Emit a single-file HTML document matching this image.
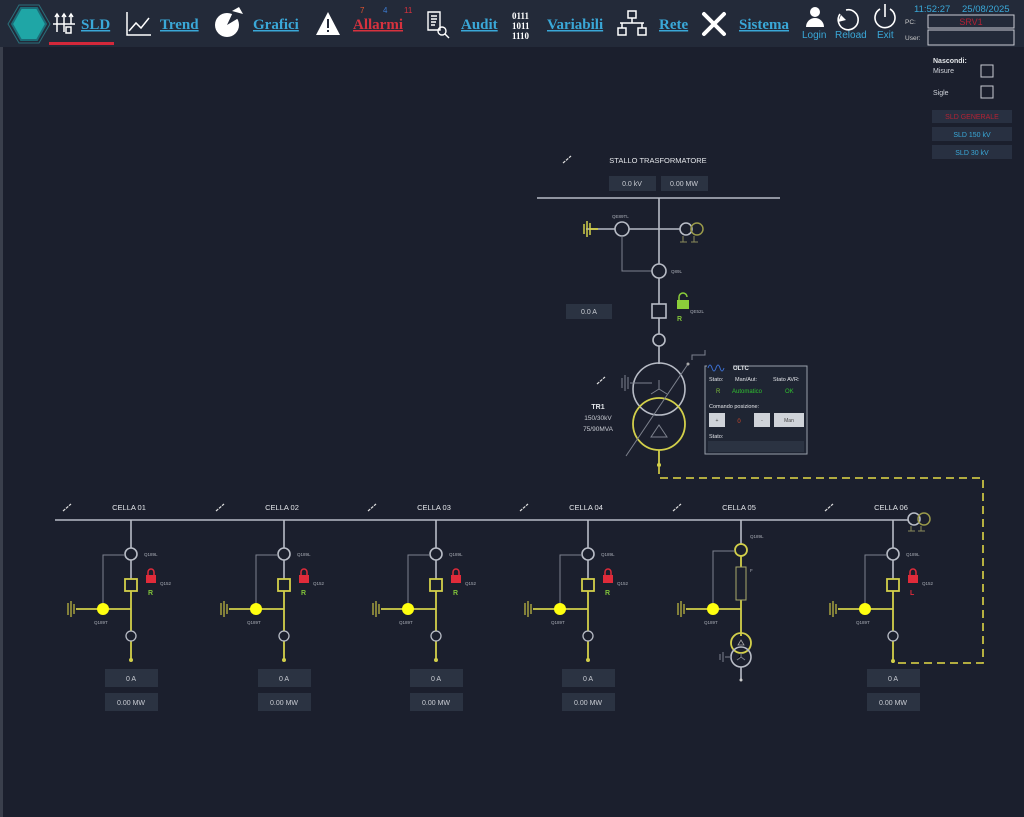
<!DOCTYPE html>
<html><head><meta charset="utf-8"><style>
html,body{margin:0;padding:0;background:#1b1f2d;}
svg{display:block;font-family:"Liberation Sans",sans-serif;}
.g{stroke:#b8bcc6;fill:none;stroke-width:1.6}
.gt{stroke:#7d828e;fill:none;stroke-width:1}
.y{stroke:#d2cf4a;fill:none;stroke-width:1.8}
.lbl{fill:#e4e6ea;font-size:7.5px}
.sm{fill:#a9adb6;font-size:4.5px}
.box{fill:#2b3342}
.bt{fill:#c9ccd3;font-size:7px;text-anchor:middle}
.menu{font-family:"Liberation Serif",serif;font-size:15px;font-weight:bold;fill:#3aa8d8;text-decoration:underline}
</style></head><body>
<svg width="1024" height="817" viewBox="0 0 1024 817">
<rect width="1024" height="817" fill="#1b1f2d"/>
<rect x="0" y="0" width="3" height="817" fill="#3a3f4c"/>
<rect x="0" y="0" width="1024" height="47" fill="#232a39"/>
<polygon points="12,24 21,8 37,8 46,24 37,40 21,40" fill="#1fa6a6" stroke="#1b6d78" stroke-width="2"/>
<polygon points="8,24 19,5 39,5 50,24 39,43 19,43" fill="none" stroke="#2a6f7a" stroke-width="1"/>
<rect x="49" y="42" width="65" height="3" fill="#d3283a"/>
<g stroke="#fff" stroke-width="1.5" fill="none"><path d="M53,24H75M57,14V32M64,14V32M71,14V24"/><path d="M55,17l2,-3 2,3M62,17l2,-3 2,3M69,17l2,-3 2,3"/><rect x="66" y="27" width="5" height="6"/></g>
<text x="81" y="29" class="menu">SLD</text>
<path d="M127,12V35H151M129,31l7,-8 5,5 8,-10" stroke="#fff" stroke-width="1.5" fill="none"/>
<text x="160" y="29" class="menu">Trend</text>
<circle cx="227" cy="25" r="12" fill="#fff"/><path d="M227,25L234,10L242,16Z" fill="#232a39"/><path d="M232,11l7,-4 4,7z" fill="#fff"/>
<text x="253" y="29" class="menu">Grafici</text>
<path d="M328,12L340,35H316Z" fill="#fff"/><rect x="327" y="19" width="2" height="9" fill="#232a39"/><rect x="327" y="30" width="2" height="2" fill="#232a39"/>
<text x="353" y="29" class="menu" style="fill:#d7323e">Allarmi</text>
<text x="360" y="13" style="fill:#e0522e;font-size:8px">7</text><text x="383" y="13" style="fill:#3b7bd1;font-size:8px">4</text><text x="404" y="13" style="fill:#d7323e;font-size:8px">11</text>
<g stroke="#fff" stroke-width="1.4" fill="none"><path d="M428,12H440V30H428Z M431,16H437M431,19H437M431,22H436M431,25H435"/><circle cx="442" cy="31" r="4"/><path d="M445,34l4,4"/></g>
<text x="461" y="29" class="menu">Audit</text>
<g style="fill:#fff;font-family:'Liberation Serif',serif;font-size:9px;font-weight:bold"><text x="512" y="19">0111</text><text x="512" y="29">1011</text><text x="512" y="39">1110</text></g>
<text x="547" y="29" class="menu">Variabili</text>
<g stroke="#fff" stroke-width="1.5" fill="none"><rect x="628" y="11" width="8" height="7"/><path d="M632,18V23M620,23H644M622,23V28M642,23V28"/><rect x="618" y="28" width="8" height="7"/><rect x="638" y="28" width="8" height="7"/></g>
<text x="659" y="29" class="menu">Rete</text>
<g stroke="#fff" stroke-width="4" stroke-linecap="round"><path d="M704,14L724,34M724,14L704,34"/></g>
<text x="739" y="29" class="menu">Sistema</text>
<circle cx="815" cy="12" r="5" fill="#fff"/><path d="M806,27a9,9 0 0 1 18,0Z" fill="#fff"/>
<text x="802" y="38" style="fill:#3aa8d8;font-size:10px">Login</text>
<path d="M846,10a10,10 0 1 1 -6,4" stroke="#fff" stroke-width="1.6" fill="none"/><path d="M838,22l3,-7 5,5z" fill="#fff"/>
<text x="835" y="38" style="fill:#3aa8d8;font-size:10px">Reload</text>
<path d="M880,9a10,10 0 1 0 10,0M885,4V17" stroke="#fff" stroke-width="1.6" fill="none"/>
<text x="877" y="38" style="fill:#3aa8d8;font-size:10px">Exit</text>
<text x="914" y="12" style="fill:#3aa8d8;font-size:9.5px">11:52:27</text><text x="962" y="12" style="fill:#3aa8d8;font-size:9.5px">25/08/2025</text>
<text x="905" y="24" style="fill:#ccc;font-size:6.5px">PC:</text><text x="905" y="40" style="fill:#ccc;font-size:6.5px">User:</text>
<rect x="928" y="15" width="86" height="13" fill="none" stroke="#c8cbd2" stroke-width="1"/>
<text x="971" y="25" style="fill:#b32234;font-size:9px;text-anchor:middle">SRV1</text>
<rect x="928" y="30" width="86" height="15" fill="none" stroke="#c8cbd2" stroke-width="1"/>
<text x="933" y="63" style="fill:#e4e6ea;font-size:7px;font-weight:bold">Nascondi:</text>
<text x="933" y="73" style="fill:#d0d3da;font-size:7px">Misure</text>
<rect x="981" y="65" width="12" height="12" fill="none" stroke="#c8cbd2"/>
<text x="933" y="95" style="fill:#d0d3da;font-size:7px">Sigle</text>
<rect x="981" y="86" width="12" height="12" fill="none" stroke="#c8cbd2"/>
<rect x="932" y="110" width="80" height="13" fill="#283041"/><text x="972" y="119" style="fill:#b32234;font-size:7px;text-anchor:middle">SLD GENERALE</text>
<rect x="932" y="127" width="80" height="14" fill="#283041"/><text x="972" y="137" style="fill:#3aa8d8;font-size:7px;text-anchor:middle">SLD 150 kV</text>
<rect x="932" y="145" width="80" height="14" fill="#283041"/><text x="972" y="155" style="fill:#3aa8d8;font-size:7px;text-anchor:middle">SLD 30 kV</text>

<path d="M563,163l8,-7" stroke="#ddd" stroke-width="1.2" stroke-dasharray="3,1"/>
<text x="658" y="163" class="lbl" style="text-anchor:middle">STALLO TRASFORMATORE</text>
<rect x="609" y="176" width="47" height="15" class="box"/><text x="632" y="186" class="bt">0.0 kV</text>
<rect x="661" y="176" width="47" height="15" class="box"/><text x="684" y="186" class="bt">0.00 MW</text>
<path d="M537,198H780" class="g" stroke-width="2"/>
<path d="M659,198V264M659,278V304M659,318V334M659,346V364" class="g"/>
<path d="M586,229H615M629,229H680" class="g"/>
<path d="M584,224V234M587,221V237M590,223V235" stroke="#d2cf4a" stroke-width="1.5"/><path d="M590,229H598" class="y"/>
<circle cx="622" cy="229" r="7" class="g"/>
<text x="612" y="218" class="sm">QE89TL</text>
<path d="M622,236V271H652" class="gt"/>
<circle cx="686" cy="229" r="6" class="g"/><circle cx="697" cy="229" r="6" stroke="#9a9a4a" stroke-width="1.5" fill="none"/>
<path d="M683,236V242M680,242H687M694,236V242M691,242H698" stroke="#8b8b5a" stroke-width="1"/>
<circle cx="659" cy="271" r="7" class="g"/><text x="671" y="273" class="sm">Q89L</text>
<rect x="652" y="304" width="14" height="14" class="g"/>
<rect x="677" y="300" width="12" height="9" fill="#8ccf3a"/><path d="M679,300v-3a4,4 0 0 1 8,0" stroke="#8ccf3a" stroke-width="1.5" fill="none"/>
<text x="677" y="321" style="fill:#7fc13a;font-size:7px;font-weight:bold">R</text>
<text x="690" y="313" class="sm">QE52L</text>
<rect x="566" y="304" width="46" height="15" class="box"/><text x="589" y="314" class="bt">0.0 A</text>
<circle cx="659" cy="340" r="6" class="g"/>
<circle cx="659" cy="389" r="26" class="g" stroke-width="2"/>
<circle cx="659" cy="424" r="26" class="y" stroke-width="2"/>
<path d="M659,380V389M659,389l-8,5M659,389l8,5M630,383H652" class="gt" stroke-width="1.2"/>
<path d="M622,378V388M625,375V391M628,377V389" class="gt" stroke-width="1.2"/>
<path d="M651,437L659,425L667,437Z" class="gt" stroke-width="1.2"/>
<path d="M626,456L688,364" class="gt" stroke-width="1.2"/><circle cx="688" cy="364" r="1.5" fill="#aaa"/>
<path d="M692,360V355H705V350" class="gt"/>
<path d="M659,450V465" class="y"/><circle cx="659" cy="465" r="2" fill="#d2cf4a"/>
<path d="M659,466V478H983V663H893" stroke="#c8c043" stroke-width="1.8" fill="none" stroke-dasharray="8,5"/>
<path d="M597,384l8,-7" stroke="#ddd" stroke-width="1.2" stroke-dasharray="3,1"/>
<text x="598" y="409" style="fill:#e4e6ea;font-size:7px;font-weight:bold;text-anchor:middle">TR1</text>
<text x="598" y="420" style="fill:#c9ccd3;font-size:6.5px;text-anchor:middle">150/30kV</text>
<text x="598" y="431" style="fill:#c9ccd3;font-size:6.5px;text-anchor:middle">75/90MVA</text>
<rect x="705" y="366" width="102" height="88" fill="#1f2533" stroke="#9aa0ab" stroke-width="1"/>
<rect x="707" y="362" width="26" height="8" fill="#1b1f2d"/>
<path d="M708,368q2,-6 4,0t4,0t4,0t4,0" stroke="#3b6fd1" stroke-width="1" fill="none"/>
<text x="733" y="370" style="fill:#e4e6ea;font-size:6px;font-weight:bold">OLTC</text>
<text x="709" y="381" style="fill:#e4e6ea;font-size:5.5px">Stato:</text>
<text x="735" y="381" style="fill:#e4e6ea;font-size:5.5px">Man/Aut:</text>
<text x="773" y="381" style="fill:#e4e6ea;font-size:5.5px">Stato AVR:</text>
<text x="716" y="393" style="fill:#7fc13a;font-size:6px">R</text>
<text x="732" y="393" style="fill:#30c030;font-size:6px">Automatico</text>
<text x="785" y="393" style="fill:#30c030;font-size:6px">OK</text>
<text x="709" y="408" style="fill:#e4e6ea;font-size:5.5px">Comando posizione:</text>
<rect x="709" y="413" width="16" height="14" fill="#cfd3d9"/><text x="717" y="422" style="fill:#444;font-size:5px;text-anchor:middle">+</text>
<text x="739" y="423" style="fill:#d44a2a;font-size:6px;text-anchor:middle">0</text>
<rect x="754" y="413" width="16" height="14" fill="#cfd3d9"/><text x="762" y="422" style="fill:#444;font-size:5px;text-anchor:middle">-</text>
<rect x="774" y="413" width="30" height="14" fill="#cfd3d9"/><text x="789" y="422" style="fill:#444;font-size:5px;text-anchor:middle">Man</text>
<text x="709" y="438" style="fill:#e4e6ea;font-size:5.5px">Stato:</text>
<rect x="708" y="441" width="96" height="11" fill="#2b3342"/>

<path d="M55,520H908" class="g" stroke-width="2.2"/>
<circle cx="914" cy="519" r="6" class="g"/><circle cx="924" cy="519" r="6" stroke="#9a9a4a" stroke-width="1.5" fill="none"/>
<path d="M911,526V531M908,531H915M921,526V531M918,531H925" stroke="#8b8b5a" stroke-width="1"/>

<g transform="translate(131,0)">
<path d="M-68,511l8,-7" stroke="#ddd" stroke-width="1.2" stroke-dasharray="3,1"/>
<text x="-2" y="510" class="lbl" style="text-anchor:middle">CELLA 01</text>
<path d="M0,520V548M0,560V579" class="g"/><circle cx="0" cy="554" r="6" class="g"/>
<text x="13" y="556" class="sm">Q189L</text>
<path d="M-6,555H-28V603" class="gt"/>
<path d="M0,591V660M-55,609H0" class="y"/>
<rect x="-6" y="579" width="12" height="12" class="y"/>
<rect x="15" y="575" width="10" height="8" fill="#e02b3a"/><path d="M17,575v-3a3,3 0 0 1 6,0v3" stroke="#e02b3a" stroke-width="1.5" fill="none"/>
<text x="17" y="595" style="fill:#7fc13a;font-size:7px;font-weight:bold">R</text>
<text x="29" y="585" class="sm">Q152</text>
<path d="M-57,604V614M-60,601V617M-63,603V615" stroke="#c8c043" stroke-width="1.2"/>
<circle cx="-28" cy="609" r="6" fill="#ffff10"/>
<text x="-37" y="624" class="sm">Q189T</text>
<circle cx="0" cy="636" r="5" stroke="#b8bcc6" stroke-width="1.3" fill="#1b1f2d"/>
<circle cx="0" cy="660" r="2" fill="#d2cf4a"/>
<rect x="-26" y="669" width="53" height="18" class="box"/><text x="0" y="681" class="bt">0 A</text>
<rect x="-26" y="693" width="53" height="18" class="box"/><text x="0" y="705" class="bt">0.00 MW</text>
</g>
<g transform="translate(284,0)">
<path d="M-68,511l8,-7" stroke="#ddd" stroke-width="1.2" stroke-dasharray="3,1"/>
<text x="-2" y="510" class="lbl" style="text-anchor:middle">CELLA 02</text>
<path d="M0,520V548M0,560V579" class="g"/><circle cx="0" cy="554" r="6" class="g"/>
<text x="13" y="556" class="sm">Q189L</text>
<path d="M-6,555H-28V603" class="gt"/>
<path d="M0,591V660M-55,609H0" class="y"/>
<rect x="-6" y="579" width="12" height="12" class="y"/>
<rect x="15" y="575" width="10" height="8" fill="#e02b3a"/><path d="M17,575v-3a3,3 0 0 1 6,0v3" stroke="#e02b3a" stroke-width="1.5" fill="none"/>
<text x="17" y="595" style="fill:#7fc13a;font-size:7px;font-weight:bold">R</text>
<text x="29" y="585" class="sm">Q152</text>
<path d="M-57,604V614M-60,601V617M-63,603V615" stroke="#c8c043" stroke-width="1.2"/>
<circle cx="-28" cy="609" r="6" fill="#ffff10"/>
<text x="-37" y="624" class="sm">Q189T</text>
<circle cx="0" cy="636" r="5" stroke="#b8bcc6" stroke-width="1.3" fill="#1b1f2d"/>
<circle cx="0" cy="660" r="2" fill="#d2cf4a"/>
<rect x="-26" y="669" width="53" height="18" class="box"/><text x="0" y="681" class="bt">0 A</text>
<rect x="-26" y="693" width="53" height="18" class="box"/><text x="0" y="705" class="bt">0.00 MW</text>
</g>
<g transform="translate(436,0)">
<path d="M-68,511l8,-7" stroke="#ddd" stroke-width="1.2" stroke-dasharray="3,1"/>
<text x="-2" y="510" class="lbl" style="text-anchor:middle">CELLA 03</text>
<path d="M0,520V548M0,560V579" class="g"/><circle cx="0" cy="554" r="6" class="g"/>
<text x="13" y="556" class="sm">Q189L</text>
<path d="M-6,555H-28V603" class="gt"/>
<path d="M0,591V660M-55,609H0" class="y"/>
<rect x="-6" y="579" width="12" height="12" class="y"/>
<rect x="15" y="575" width="10" height="8" fill="#e02b3a"/><path d="M17,575v-3a3,3 0 0 1 6,0v3" stroke="#e02b3a" stroke-width="1.5" fill="none"/>
<text x="17" y="595" style="fill:#7fc13a;font-size:7px;font-weight:bold">R</text>
<text x="29" y="585" class="sm">Q152</text>
<path d="M-57,604V614M-60,601V617M-63,603V615" stroke="#c8c043" stroke-width="1.2"/>
<circle cx="-28" cy="609" r="6" fill="#ffff10"/>
<text x="-37" y="624" class="sm">Q189T</text>
<circle cx="0" cy="636" r="5" stroke="#b8bcc6" stroke-width="1.3" fill="#1b1f2d"/>
<circle cx="0" cy="660" r="2" fill="#d2cf4a"/>
<rect x="-26" y="669" width="53" height="18" class="box"/><text x="0" y="681" class="bt">0 A</text>
<rect x="-26" y="693" width="53" height="18" class="box"/><text x="0" y="705" class="bt">0.00 MW</text>
</g>
<g transform="translate(588,0)">
<path d="M-68,511l8,-7" stroke="#ddd" stroke-width="1.2" stroke-dasharray="3,1"/>
<text x="-2" y="510" class="lbl" style="text-anchor:middle">CELLA 04</text>
<path d="M0,520V548M0,560V579" class="g"/><circle cx="0" cy="554" r="6" class="g"/>
<text x="13" y="556" class="sm">Q189L</text>
<path d="M-6,555H-28V603" class="gt"/>
<path d="M0,591V660M-55,609H0" class="y"/>
<rect x="-6" y="579" width="12" height="12" class="y"/>
<rect x="15" y="575" width="10" height="8" fill="#e02b3a"/><path d="M17,575v-3a3,3 0 0 1 6,0v3" stroke="#e02b3a" stroke-width="1.5" fill="none"/>
<text x="17" y="595" style="fill:#7fc13a;font-size:7px;font-weight:bold">R</text>
<text x="29" y="585" class="sm">Q152</text>
<path d="M-57,604V614M-60,601V617M-63,603V615" stroke="#c8c043" stroke-width="1.2"/>
<circle cx="-28" cy="609" r="6" fill="#ffff10"/>
<text x="-37" y="624" class="sm">Q189T</text>
<circle cx="0" cy="636" r="5" stroke="#b8bcc6" stroke-width="1.3" fill="#1b1f2d"/>
<circle cx="0" cy="660" r="2" fill="#d2cf4a"/>
<rect x="-26" y="669" width="53" height="18" class="box"/><text x="0" y="681" class="bt">0 A</text>
<rect x="-26" y="693" width="53" height="18" class="box"/><text x="0" y="705" class="bt">0.00 MW</text>
</g>
<g transform="translate(741,0)">
<path d="M-68,511l8,-7" stroke="#ddd" stroke-width="1.2" stroke-dasharray="3,1"/>
<text x="-2" y="510" class="lbl" style="text-anchor:middle">CELLA 05</text>
<path d="M0,520V544" class="g"/>
<circle cx="0" cy="550" r="6" class="y"/>
<text x="9" y="538" class="sm">Q189L</text>
<path d="M-6,551H-28V603" class="gt"/>
<path d="M0,556V567M0,600V636M-55,609H0" class="y"/>
<rect x="-5" y="567" width="10" height="33" stroke="#a8a86a" stroke-width="1" fill="none"/>
<text x="9" y="572" class="sm">F</text>
<path d="M-57,604V614M-60,601V617M-63,603V615" stroke="#c8c043" stroke-width="1.2"/>
<circle cx="-28" cy="609" r="6" fill="#ffff10"/>
<text x="-37" y="624" class="sm">Q189T</text>
<circle cx="0" cy="643" r="10" class="y" stroke-width="2"/>
<circle cx="0" cy="657" r="10" class="g" stroke-width="1.6"/>
<path d="M-3,645L0,640L3,645Z" stroke="#aaa" stroke-width="0.8" fill="none"/>
<path d="M0,653V657l-4,3M0,657l4,3M-16,657H-10M-18,652V662M-21,654V660" stroke="#7d828e" stroke-width="1"/>
<path d="M0,667V680" class="g" stroke-width="1"/><circle cx="0" cy="680" r="1.5" fill="#ccc"/>
</g>
<g transform="translate(893,0)">
<path d="M-68,511l8,-7" stroke="#ddd" stroke-width="1.2" stroke-dasharray="3,1"/>
<text x="-2" y="510" class="lbl" style="text-anchor:middle">CELLA 06</text>
<path d="M0,520V548M0,560V579" class="g"/><circle cx="0" cy="554" r="6" class="g"/>
<text x="13" y="556" class="sm">Q189L</text>
<path d="M-6,555H-28V603" class="gt"/>
<path d="M0,591V663M-55,609H0" class="y"/>
<rect x="-6" y="579" width="12" height="12" class="y"/>
<rect x="15" y="575" width="10" height="8" fill="#e02b3a"/><path d="M17,575v-3a3,3 0 0 1 6,0v3" stroke="#e02b3a" stroke-width="1.5" fill="none"/>
<text x="17" y="595" style="fill:#e02b3a;font-size:7px;font-weight:bold">L</text>
<text x="29" y="585" class="sm">Q152</text>
<path d="M-57,604V614M-60,601V617M-63,603V615" stroke="#c8c043" stroke-width="1.2"/>
<circle cx="-28" cy="609" r="6" fill="#ffff10"/>
<text x="-37" y="624" class="sm">Q189T</text>
<circle cx="0" cy="636" r="5" stroke="#b8bcc6" stroke-width="1.3" fill="#1b1f2d"/>
<circle cx="0" cy="661" r="2" fill="#d2cf4a"/>
<rect x="-26" y="669" width="53" height="18" class="box"/><text x="0" y="681" class="bt">0 A</text>
<rect x="-26" y="693" width="53" height="18" class="box"/><text x="0" y="705" class="bt">0.00 MW</text>
</g>
</svg>
</body></html>
